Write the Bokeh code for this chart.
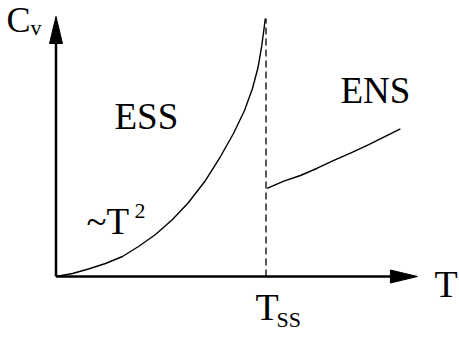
from bokeh.plotting import figure
from bokeh.models import Range1d
from bokeh.core.properties import value
from bokeh.embed import file_html
from bokeh.resources import INLINE

# ---- data (T in units of T_SS, Cv in arbitrary units) ----
ess_T = [0.0, 0.0786, 0.1548, 0.2357, 0.3167, 0.3929, 0.4738, 0.5548, 0.6310,
         0.7119, 0.7833, 0.8452, 0.8976, 0.9357, 0.9619, 0.9786, 0.9895, 0.9967]
ess_C = [0.0, 0.0116, 0.0290, 0.0502, 0.0772, 0.1158, 0.1622, 0.2201, 0.2857,
         0.3707, 0.4633, 0.5521, 0.6409, 0.7259, 0.8069, 0.8842, 0.9498, 0.9961]
ens_T = [1.005, 1.085, 1.164, 1.244, 1.323, 1.402, 1.482, 1.561, 1.640]
ens_C = [0.340, 0.368, 0.390, 0.418, 0.448, 0.476, 0.506, 0.538, 0.570]
T_ss = 1.0
T_axis_max = 1.721
C_axis_max = 1.004
C_ss_top = 0.996

# ---- layout ----
W, H = 459, 337
X0, SX = 55.5, 210.0   # screen x of origin, px per unit
Y0, SY = 276.0, 259.0  # screen y of origin, px per unit

def dx(px):
    return px / SX

def dy(px):
    return px / SY

def sx(x):
    return (x - X0) / SX

def sy(y):
    return (Y0 - y) / SY

p = figure(width=W, height=H, output_backend="svg", toolbar_location=None,
           x_range=Range1d(sx(0), sx(W)),
           y_range=Range1d(sy(H), sy(0)),
           x_axis_type=None, y_axis_type=None, min_border=0)
p.grid.visible = False
p.outline_line_color = None
p.background_fill_color = "white"
p.border_fill_color = "white"

HEAD_L, HEAD_W = 27, 6.5

# axes lines
p.line([0, T_axis_max - dx(HEAD_L) + dx(2)], [0, 0], line_color="black", line_width=2.5)
p.line([0, 0], [0, C_axis_max - dy(HEAD_L) + dy(2)], line_color="black", line_width=2.5)
# arrow heads
p.patch([T_axis_max, T_axis_max - dx(HEAD_L), T_axis_max - dx(HEAD_L)],
        [0, dy(HEAD_W), -dy(HEAD_W)], fill_color="black", line_color="black", line_width=1)
p.patch([0, dx(HEAD_W), -dx(HEAD_W)],
        [C_axis_max, C_axis_max - dy(HEAD_L), C_axis_max - dy(HEAD_L)],
        fill_color="black", line_color="black", line_width=1)

# dashed T_SS line
p.line([T_ss, T_ss], [0, C_ss_top], line_color="black", line_width=1.3, line_dash="7 4")

# curves
p.line(ess_T, ess_C, line_color="black", line_width=1.4, line_join="round")
p.line(ens_T, ens_C, line_color="black", line_width=1.4, line_join="round")

FONT = "Liberation Serif"
BASE_SHIFT = 0.35  # em, correction measured from the rendered output

def lab(text, x, y, size):
    yy = y - BASE_SHIFT * size
    p.text(x=[sx(x)], y=[sy(yy)], text=[text], text_font=value(FONT),
           text_font_size=value(f"{size}px"), text_color="black",
           text_baseline="alphabetic", text_align="left")

lab("C", 6, 32, 36)
lab("v", 30, 35, 22)
lab("ESS", 114, 129, 37)
lab("ENS", 340, 103, 37)
lab("~T", 86, 234, 37)
lab("2", 134, 218, 22)
lab("T", 434, 297, 38)
lab("T", 255, 320, 38)
lab("SS", 276, 327, 22)

open("out.html", "w").write(file_html(p, INLINE))
